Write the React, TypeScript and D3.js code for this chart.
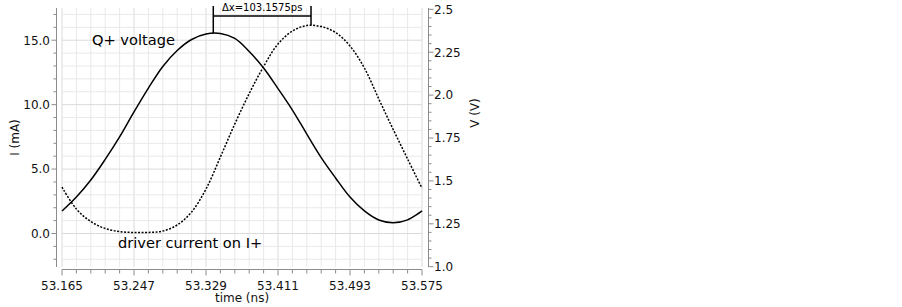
import React from "react";
import * as d3 from "d3";

// sample times (ns), one per minor grid step
const times = [
  53.165, 53.1814, 53.1978, 53.2142, 53.2306, 53.247, 53.2634, 53.2798, 53.2962,
  53.3126, 53.329, 53.3454, 53.3618, 53.3782, 53.3946, 53.411, 53.4274, 53.4438,
  53.4602, 53.4766, 53.493, 53.5094, 53.5258, 53.5422, 53.5586, 53.575,
];
// Q+ voltage (V), right axis
const voltage = [
  1.325, 1.406, 1.505, 1.625, 1.756, 1.902, 2.041, 2.167, 2.26, 2.324, 2.356, 2.359,
  2.33, 2.254, 2.158, 2.038, 1.913, 1.773, 1.636, 1.517, 1.406, 1.325, 1.272,
  1.256, 1.273, 1.325,
];
// driver current on I+ (mA), left axis
const current = [
  3.59, 1.9, 0.93, 0.39, 0.15, 0.08, 0.08, 0.19, 0.66, 1.67, 3.45, 5.94, 8.5,
  10.86, 12.96, 14.71, 15.71, 16.14, 16.06, 15.6, 14.55, 12.84, 10.44, 8.07,
  5.78, 3.51,
];

const xTicks = [53.165, 53.247, 53.329, 53.411, 53.493, 53.575];
const xTickLabels = ["53.165", "53.247", "53.329", "53.411", "53.493", "53.575"];
const iTicks = [0, 5, 10, 15];
const iTickLabels = ["0.0", "5.0", "10.0", "15.0"];
const vTicks = [1.0, 1.25, 1.5, 1.75, 2.0, 2.25, 2.5];
const vTickLabels = ["1.0", "1.25", "1.5", "1.75", "2.0", "2.25", "2.5"];

// delta-x marker: peak times and peak values
const markerTimes = [53.3373, 53.4486];
const markerPeakV = 2.36;
const markerPeakI = 16.16;
const markerLabel = "\u0394x=103.1575ps";

const W = 902;
const H = 307;
const left = 62, right = 422, top = 8, bottom = 267;
const font = "DejaVu Sans, Verdana, sans-serif";
const axisColor = "#8c8c8c";

const App = () => {
  const x = d3.scaleLinear().domain([53.165, 53.575]).range([left, right]);
  const yI = d3.scaleLinear().domain([-2.6, 17.5]).range([bottom, top]);
  const yV = d3.scaleLinear().domain([1, 2.5]).range([266.7, 9.3]);

  const iMinor = d3.range(-2, 18, 1);
  const vMinor = d3.range(1, 2.5001, 0.05);

  const vLine = d3
    .line<number>()
    .x((d, i) => x(times[i]))
    .y((d) => yV(d))
    .curve(d3.curveCatmullRom.alpha(0.5));
  const iLine = d3
    .line<number>()
    .x((d, i) => x(times[i]))
    .y((d) => yI(d))
    .curve(d3.curveCatmullRom.alpha(0.5));

  const axL = 56.5, axR = 428.5, axB = 269.5;
  const mx0 = x(markerTimes[0]), mx1 = x(markerTimes[1]);

  return (
    <svg
      width={W}
      height={H}
      style={{ position: "absolute", left: 0, top: 0, background: "#fff" }}
      fontFamily={font}
    >
      {/* grid */}
      <g>
        {times.map((t, i) => (
          <line
            key={"vg" + i}
            x1={x(t)}
            x2={x(t)}
            y1={top}
            y2={bottom}
            stroke={i % 5 === 0 ? "#dadada" : "#e9e9e9"}
            strokeWidth={1}
          />
        ))}
        {iMinor.map((v) => (
          <line
            key={"hg" + v}
            x1={left}
            x2={right}
            y1={yI(v)}
            y2={yI(v)}
            stroke={v % 5 === 0 ? "#dadada" : "#e9e9e9"}
            strokeWidth={1}
          />
        ))}
      </g>

      {/* left axis */}
      <g>
        <line x1={axL} x2={axL} y1={top} y2={bottom} stroke={axisColor} />
        {iMinor.map((v) => (
          <line
            key={"lt" + v}
            x1={axL}
            x2={v % 5 === 0 ? axL - 5 : axL - 3}
            y1={yI(v)}
            y2={yI(v)}
            stroke={axisColor}
          />
        ))}
        {iTicks.map((v, i) => (
          <text
            key={"ll" + v}
            x={50}
            y={yI(v)}
            dy="0.36em"
            textAnchor="end"
            fontSize={12}
            fill="#111"
          >
            {iTickLabels[i]}
          </text>
        ))}
        <text
          transform={`translate(19,${(top + bottom) / 2}) rotate(-90)`}
          textAnchor="middle"
          fontSize={12}
          fill="#111"
        >
          I (mA)
        </text>
      </g>

      {/* right axis */}
      <g>
        <line x1={axR} x2={axR} y1={top} y2={bottom} stroke={axisColor} />
        {vMinor.map((v, i) => (
          <line
            key={"rt" + i}
            x1={axR}
            x2={i % 5 === 0 ? axR + 5 : axR + 3}
            y1={yV(v)}
            y2={yV(v)}
            stroke={axisColor}
          />
        ))}
        {vTicks.map((v, i) => (
          <text
            key={"rl" + v}
            x={434}
            y={yV(v)}
            dy="0.36em"
            fontSize={12}
            fill="#111"
          >
            {vTickLabels[i]}
          </text>
        ))}
        <text
          transform={`translate(479,113) rotate(-90)`}
          textAnchor="middle"
          fontSize={12}
          fill="#111"
        >
          V (V)
        </text>
      </g>

      {/* bottom axis */}
      <g>
        <line x1={left} x2={right} y1={axB} y2={axB} stroke={axisColor} />
        {times.map((t, i) => (
          <line
            key={"bt" + i}
            x1={x(t)}
            x2={x(t)}
            y1={axB}
            y2={i % 5 === 0 ? axB + 6 : axB + 4}
            stroke={axisColor}
          />
        ))}
        {xTicks.map((t, i) => (
          <text
            key={"bl" + i}
            x={x(t)}
            y={290}
            textAnchor="middle"
            fontSize={12}
            fill="#111"
          >
            {xTickLabels[i]}
          </text>
        ))}
        <text x={(left + right) / 2} y={302} textAnchor="middle" fontSize={12} fill="#111">
          time (ns)
        </text>
      </g>

      {/* curves */}
      <path d={vLine(voltage) || ""} fill="none" stroke="#000" strokeWidth={1.5} />
      <path
        d={iLine(current) || ""}
        fill="none"
        stroke="#000"
        strokeWidth={1.5}
        strokeDasharray="2,1.5"
      />

      {/* labels */}
      <text x={92} y={45} fontSize={14.6} fill="#000">
        Q+ voltage
      </text>
      <text x={118} y={248} fontSize={14.6} fill="#000">
        driver current on I+
      </text>

      {/* delta x marker */}
      <g stroke="#000" strokeWidth={1.5}>
        <line x1={mx0} x2={mx0} y1={6} y2={yV(markerPeakV)} />
        <line x1={mx1} x2={mx1} y1={6} y2={yI(markerPeakI)} />
        <line x1={mx0} x2={mx1} y1={16} y2={16} />
      </g>
      <text
        x={(mx0 + mx1) / 2}
        y={11}
        textAnchor="middle"
        fontSize={10}
        fill="#000"
      >
        {markerLabel}
      </text>
    </svg>
  );
};

export default App;
